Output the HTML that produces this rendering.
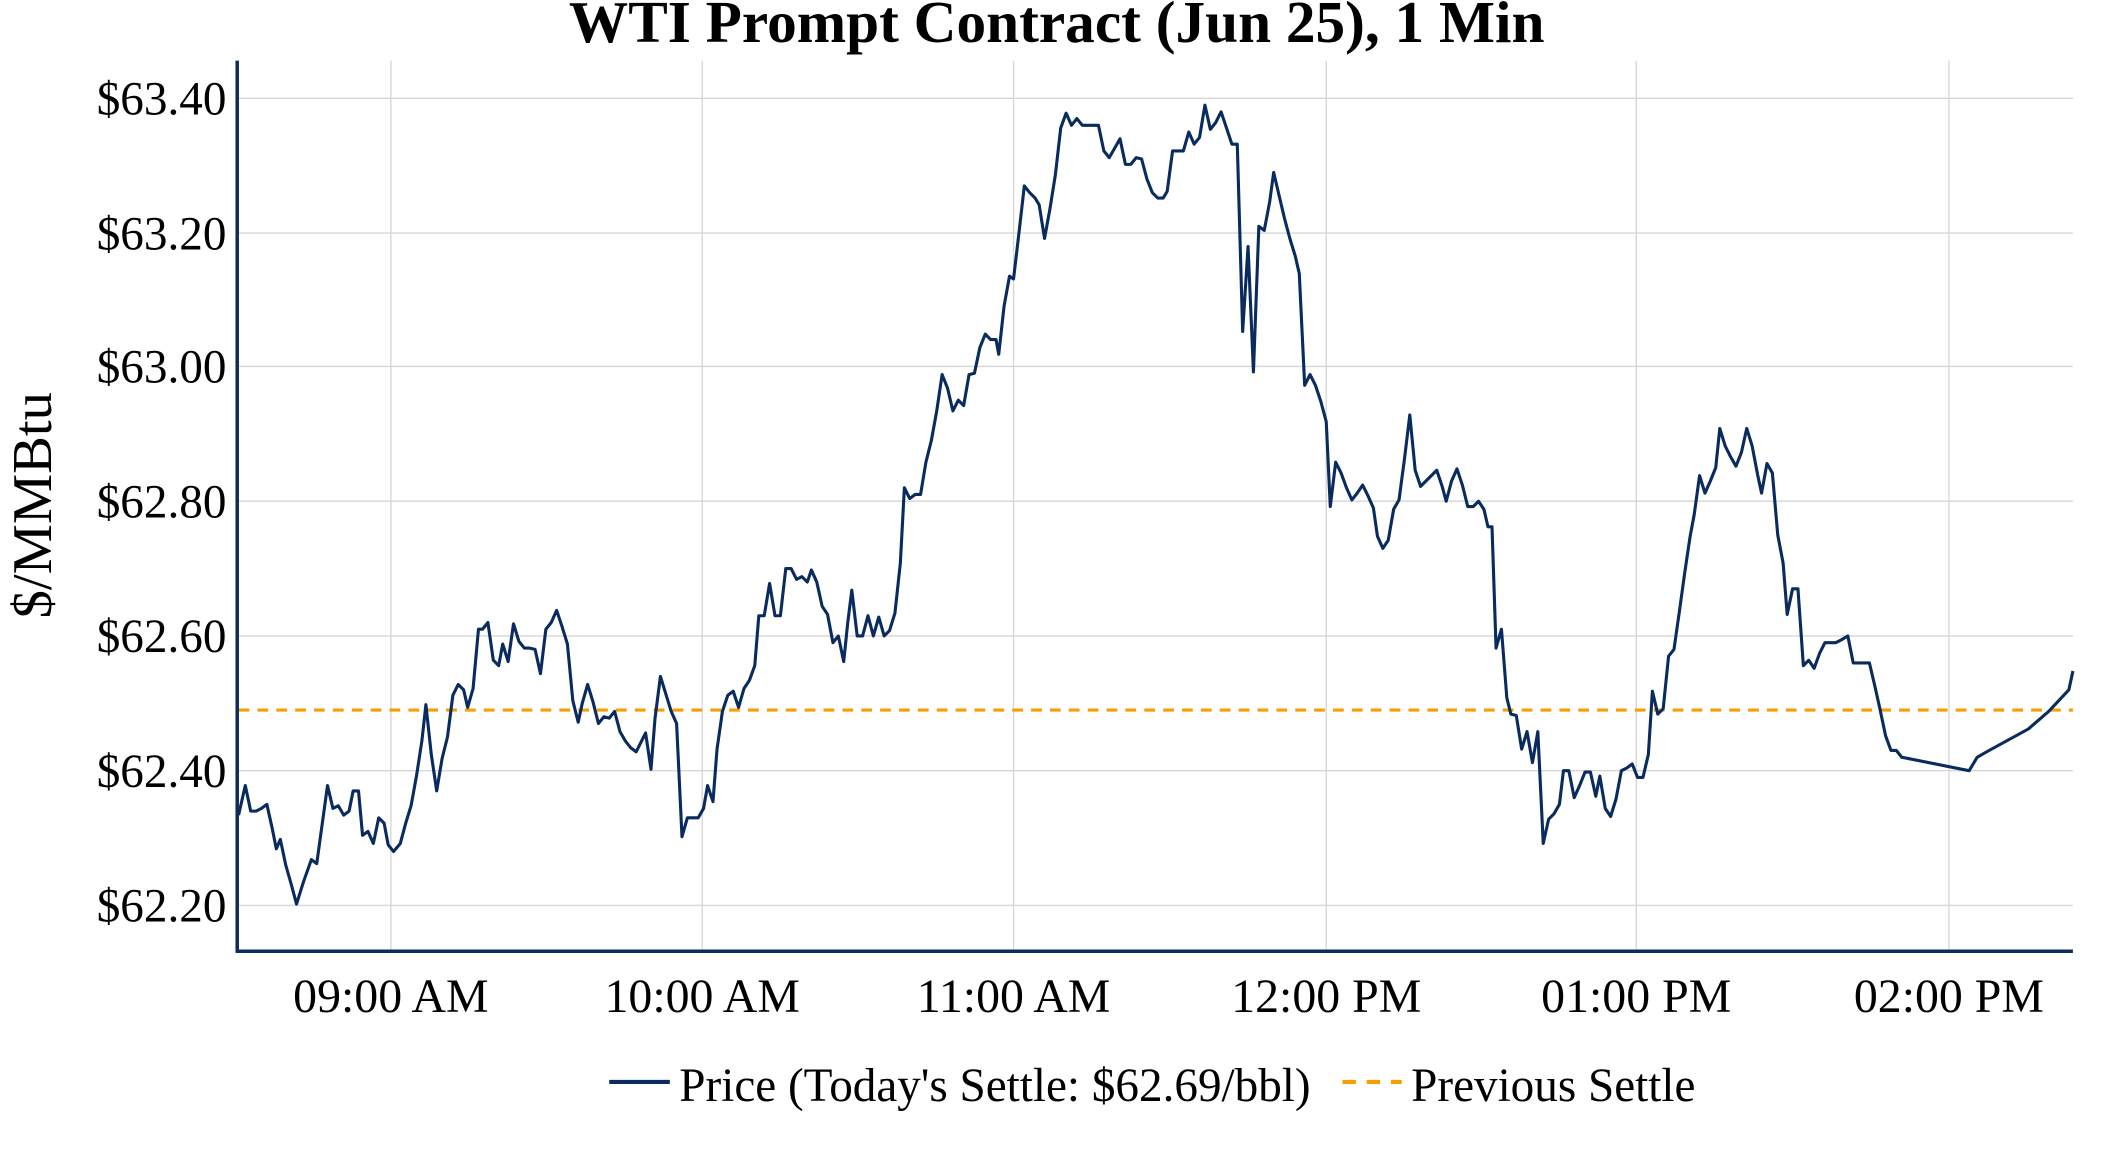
<!DOCTYPE html>
<html><head><meta charset="utf-8"><style>html,body{margin:0;padding:0;background:#fff;overflow:hidden}svg{display:block}</style></head><body>
<svg width="2112" height="1152" viewBox="0 0 1567 855" preserveAspectRatio="none" xmlns="http://www.w3.org/2000/svg" font-family="'Liberation Serif',serif">
<g stroke="#d6d6d6" stroke-width="1">
<line x1="176" x2="1538" y1="73" y2="73"/><line x1="176" x2="1538" y1="173" y2="173"/><line x1="176" x2="1538" y1="272" y2="272"/><line x1="176" x2="1538" y1="372" y2="372"/><line x1="176" x2="1538" y1="472" y2="472"/><line x1="176" x2="1538" y1="572" y2="572"/><line x1="176" x2="1538" y1="672" y2="672"/>
<line x1="290" x2="290" y1="45" y2="706"/><line x1="521" x2="521" y1="45" y2="706"/><line x1="752" x2="752" y1="45" y2="706"/><line x1="984" x2="984" y1="45" y2="706"/><line x1="1214" x2="1214" y1="45" y2="706"/><line x1="1446" x2="1446" y1="45" y2="706"/>
</g>
<line x1="177" x2="1538" y1="527" y2="527" stroke="#f5a000" stroke-width="2.3" stroke-dasharray="8,6"/>
<polyline fill="none" stroke="#0a2b5e" stroke-width="2.3" stroke-linejoin="round" points="177,605 182,583 186,602 190,602 194,600 198,597 202,615 205,630 208,623 212,642 216,656 220,671 225,655 231,638 235,641 239,612 243,583 247,600 251,598 255,605 259,602 262,587 266,587 269,620 273,617 277,626 281,607 285,611 288,627 292,632 297,626 301,611 305,598 309,576 313,550 316,523 320,560 324,587 328,563 332,547 336,516 340,508 344,512 347,525 351,511 355,467 358,467 362,462 366,490 370,494 373,478 377,491 381,463 385,476 389,481 393,481 397,482 401,500 405,467 409,462 413,453 417,465 421,478 425,520 429,536 432,522 436,508 440,521 444,537 448,532 452,533 456,528 460,543 464,550 468,555 472,558 476,550 479,544 483,571 486,533 490,502 494,515 498,528 502,537 506,621 510,607 514,607 518,607 522,600 525,583 529,595 532,556 536,528 540,516 544,513 548,525 552,511 556,505 560,494 563,457 567,457 571,433 575,457 579,457 583,422 587,422 591,430 595,428 599,432 602,423 606,432 610,450 614,456 618,477 622,472 626,491 629,462 632,438 636,472 640,472 644,457 648,472 652,458 656,472 660,468 664,455 668,418 671,362 675,370 679,367 683,367 687,343 691,327 695,305 699,278 703,288 707,305 711,297 715,301 719,278 723,277 727,258 731,248 735,252 739,252 741,263 745,227 749,205 752,207 756,173 760,138 764,143 768,147 771,152 775,177 779,155 783,130 787,95 791,84 795,93 799,88 803,93 807,93 811,93 815,93 819,112 823,117 827,110 831,103 835,122 839,122 843,117 847,118 851,133 855,143 859,147 863,147 866,142 870,112 874,112 878,112 882,98 886,107 890,102 894,78 898,96 902,91 906,83 910,95 914,107 918,107 922,246 926,183 930,276 934,168 938,171 942,150 945,128 949,145 953,162 957,177 961,190 964,203 968,286 972,278 976,286 980,298 984,313 987,376 991,343 995,351 999,362 1003,371 1007,366 1011,360 1015,368 1019,377 1022,398 1026,407 1030,401 1034,378 1038,371 1042,341 1046,308 1050,349 1054,361 1058,357 1062,353 1066,349 1070,361 1073,372 1077,357 1081,348 1085,360 1089,376 1093,376 1097,372 1101,378 1104,391 1107,391 1110,481 1114,467 1118,518 1121,530 1125,531 1129,556 1133,543 1137,566 1141,543 1145,626 1149,608 1153,604 1157,597 1160,572 1164,572 1168,592 1172,583 1176,573 1180,573 1184,591 1187,576 1191,600 1195,606 1199,593 1203,572 1207,570 1211,567 1215,577 1219,577 1223,560 1226,513 1230,530 1234,526 1238,487 1242,482 1246,454 1250,425 1254,398 1257,382 1261,353 1265,366 1269,357 1273,347 1276,318 1280,331 1284,339 1288,346 1292,336 1296,318 1300,331 1304,352 1307,366 1311,344 1315,351 1319,397 1323,418 1326,456 1330,437 1334,437 1338,494 1342,490 1346,496 1350,485 1354,477 1358,477 1362,477 1366,475 1371,472 1375,492 1379,492 1383,492 1387,492 1391,509 1395,527 1399,546 1403,557 1407,557 1411,562 1461,572 1467,562 1474,558 1505,541 1520,528 1535,512 1538,498"/>
<line x1="176" x2="176" y1="45" y2="707" stroke="#0d2b5c" stroke-width="2.6"/>
<line x1="175" x2="1538" y1="706" y2="706" stroke="#0d2b5c" stroke-width="2.6"/>
<text x="784" y="31" text-anchor="middle" font-size="44" font-weight="bold" fill="#000">WTI Prompt Contract (Jun 25), 1 Min</text>
<g font-size="35" fill="#000" text-anchor="end">
<text x="168" y="85">$63.40</text><text x="168" y="185">$63.20</text><text x="168" y="284">$63.00</text><text x="168" y="384">$62.80</text><text x="168" y="484">$62.60</text><text x="168" y="584">$62.40</text><text x="168" y="684">$62.20</text>
</g>
<g font-size="35.5" fill="#000" text-anchor="middle">
<text x="290" y="751">09:00 AM</text><text x="521" y="751">10:00 AM</text><text x="752" y="751">11:00 AM</text><text x="984" y="751">12:00 PM</text><text x="1214" y="751">01:00 PM</text><text x="1446" y="751">02:00 PM</text>
</g>
<text transform="translate(38,375) rotate(-90)" text-anchor="middle" font-size="42" fill="#000">$/MMBtu</text>
<line x1="452" x2="497" y1="803" y2="803" stroke="#0a2b5e" stroke-width="3"/>
<text x="504" y="817" font-size="35" fill="#000">Price (Today's Settle: $62.69/bbl)</text>
<line x1="996" x2="1040" y1="803" y2="803" stroke="#f5a000" stroke-width="3" stroke-dasharray="10,8"/>
<text x="1047" y="817" font-size="35" fill="#000">Previous Settle</text>
</svg>
</body></html>
